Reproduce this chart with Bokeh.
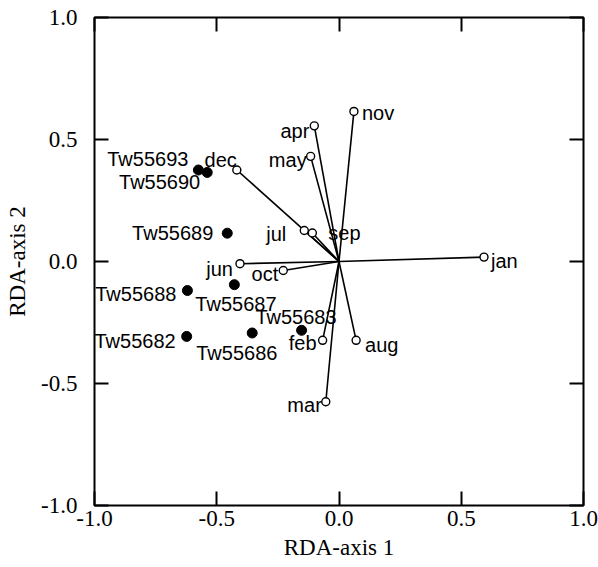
from bokeh.plotting import figure
from bokeh.models import ColumnDataSource, Range1d, FixedTicker, LinearAxis
from bokeh.core.properties import value
from bokeh.embed import file_html
from bokeh.resources import INLINE

# ---- data ----
months = ["jan", "feb", "mar", "apr", "may", "jun", "jul", "aug", "sep", "oct", "nov", "dec"]
month_x = [0.593, -0.067, -0.054, -0.101, -0.116, -0.405, -0.142, 0.070, -0.109, -0.228, 0.061, -0.418]
month_y = [0.018, -0.323, -0.575, 0.556, 0.431, -0.009, 0.127, -0.323, 0.117, -0.037, 0.615, 0.375]

sites = ["Tw55682", "Tw55683", "Tw55686", "Tw55687", "Tw55688", "Tw55689", "Tw55690", "Tw55693"]
site_x = [-0.623, -0.153, -0.355, -0.428, -0.620, -0.457, -0.539, -0.575]
site_y = [-0.307, -0.282, -0.293, -0.095, -0.119, 0.116, 0.365, 0.375]

ticks = [-1.0, -0.5, 0.0, 0.5, 1.0]
tick_labels = ["-1.0", "-0.5", "0.0", "0.5", "1.0"]
x_title = "RDA-axis 1"
y_title = "RDA-axis 2"

# ---- label placement styles (pixel offsets, alignment) ----
month_label_style = {
    "jan": (7, 4, "left"), "feb": (-6, 3, "right"), "mar": (-4, 3, "right"),
    "apr": (-5, 5, "right"), "may": (-4, 4, "right"), "jun": (-7, 5, "right"),
    "jul": (-18, 3, "right"), "aug": (9, 5, "left"), "sep": (16, 0, "left"),
    "oct": (-5, 3, "right"), "nov": (8, 2, "left"), "dec": (0, -10, "right"),
}
site_label_style = {
    "Tw55682": (-11, 5, "right"), "Tw55683": (35, -13, "right"),
    "Tw55686": (-56, 20, "left"), "Tw55687": (-39, 19, "left"),
    "Tw55688": (-11, 3, "right"), "Tw55689": (-14, 0, "right"),
    "Tw55690": (-7, 10, "right"), "Tw55693": (-10, -11, "right"),
}

p = figure(width=598, height=567, output_backend="svg", toolbar_location=None,
           x_range=Range1d(-1, 1), y_range=Range1d(-1, 1),
           min_border_left=94, min_border_right=15, min_border_top=17, min_border_bottom=62)
p.grid.visible = False
p.outline_line_color = "black"
p.outline_line_width = 2
p.background_fill_color = "white"
p.border_fill_color = "white"

overrides = dict(zip(ticks, tick_labels))
for ax in (p.xaxis[0], p.yaxis[0]):
    ax.ticker = FixedTicker(ticks=ticks)
    ax.major_label_overrides = overrides
    ax.major_tick_in = 14
    ax.major_tick_out = 0
    ax.minor_tick_line_color = None
    ax.major_tick_line_width = 2
    ax.major_tick_line_color = "black"
    ax.axis_line_color = None
    ax.major_label_text_font = "Liberation Serif"
    ax.major_label_text_font_size = "23px"
    ax.major_label_text_color = "black"
    ax.axis_label_text_font = "Liberation Serif"
    ax.axis_label_text_font_size = "23px"
    ax.axis_label_text_font_style = "normal"
    ax.axis_label_text_color = "black"
p.xaxis[0].axis_label = x_title
p.yaxis[0].axis_label = y_title
p.xaxis[0].major_label_standoff = 5
p.xaxis[0].axis_label_standoff = 6
p.yaxis[0].major_label_standoff = 17
p.yaxis[0].axis_label_standoff = 8

for loc in ("above", "right"):
    ax = LinearAxis(ticker=FixedTicker(ticks=ticks), major_tick_in=14, major_tick_out=0,
                    minor_tick_line_color=None, major_tick_line_width=2,
                    axis_line_color=None, major_label_text_font_size="1px",
                    major_label_text_color=None, major_label_standoff=0)
    p.add_layout(ax, loc)

# arrows from origin
p.segment(x0=[0] * len(months), y0=[0] * len(months), x1=month_x, y1=month_y,
          line_color="black", line_width=1.6)
p.scatter(month_x, month_y, size=8, marker="circle", fill_color="white",
          line_color="black", line_width=1.4)
p.scatter(site_x, site_y, size=10, marker="circle", fill_color="black", line_color="black")

msrc = ColumnDataSource(dict(
    x=month_x, y=month_y, t=months,
    xo=[month_label_style[m][0] for m in months],
    yo=[month_label_style[m][1] for m in months],
    al=[month_label_style[m][2] for m in months]))
ssrc = ColumnDataSource(dict(
    x=site_x, y=site_y, t=sites,
    xo=[site_label_style[s][0] for s in sites],
    yo=[site_label_style[s][1] for s in sites],
    al=[site_label_style[s][2] for s in sites]))
for src in (msrc, ssrc):
    p.text(x="x", y="y", text="t", x_offset="xo", y_offset="yo", text_align="al",
           text_baseline="middle", source=src, text_font=value("Liberation Sans"),
           text_font_size="20px", text_color="black")

open("out.html", "w").write(file_html(p, INLINE))
